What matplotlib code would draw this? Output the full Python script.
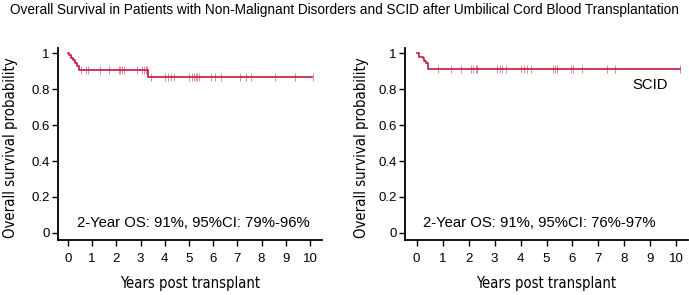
import matplotlib
matplotlib.use('Agg')
import matplotlib.pyplot as plt
from matplotlib import font_manager
import numpy as np

plt.rcParams['font.family'] = ['Liberation Sans', 'DejaVu Sans']

RED = '#c8163c'

# left panel: non-malignant disorders
left_step_x = [0, 0.05, 0.12, 0.2, 0.28, 0.38, 0.45, 3.32, 10.1]
left_step_y = [1.0, 0.987, 0.975, 0.96, 0.945, 0.93, 0.905, 0.867, 0.867]
left_cens_x = [0.52, 0.73, 0.83, 1.31, 1.70, 2.11, 2.17, 2.22, 2.30, 2.86, 3.05,
               3.13, 3.21, 3.28, 3.45, 4.03, 4.14, 4.28, 4.37, 5.0, 5.12, 5.2,
               5.28, 5.35, 5.41, 5.93, 6.08, 6.34, 7.13, 7.34, 7.56, 8.55, 9.39, 10.11]

# right panel: SCID
right_step_x = [0, 0.1, 0.23, 0.3, 0.36, 0.43, 10.13]
right_step_y = [1.0, 0.98, 0.97, 0.955, 0.945, 0.913, 0.913]
right_cens_x = [0.83, 1.32, 1.71, 2.10, 2.15, 2.28, 2.33, 3.10, 3.21, 3.28, 3.44,
                4.03, 4.13, 4.23, 4.42, 5.26, 5.32, 5.41, 5.95, 6.03, 6.36, 7.33,
                7.62, 10.13]

yticks = [0, 0.2, 0.4, 0.6, 0.8, 1]
ytick_labels = ['0', '0.2', '0.4', '0.6', '0.8', '1']
xticks = list(range(0, 11))

title = 'Overall Survival in Patients with Non-Malignant Disorders and SCID after Umbilical Cord Blood Transplantation'
notes = ['2-Year OS: 91%, 95%CI: 79%-96%', '2-Year OS: 91%, 95%CI: 76%-97%']

# axis titles use a narrow face if one is installed
narrow = None
for f in font_manager.fontManager.ttflist:
    if f.style != 'normal' or f.weight not in (400, 'normal', 'regular'):
        continue
    if 'Narrow' in f.name or f.stretch in ('condensed', 'semi-condensed'):
        narrow = font_manager.FontProperties(fname=f.fname)
        break
if narrow is None:
    lab_kw = dict(family='Liberation Sans')
    xlab_size, ylab_size = 9.3, 9.3
else:
    lab_kw = dict(fontproperties=narrow)
    xlab_size, ylab_size = 10.6, 10.7

fig = plt.figure(figsize=(6.89, 2.95), dpi=100)
fig.text(0.5, 0.966, title, ha='center', va='center', fontsize=9.8)

ax1 = fig.add_axes([58 / 689, 1 - 240 / 295, (322 - 58) / 689, 192 / 295])
ax2 = fig.add_axes([405 / 689, 1 - 240 / 295, (688 - 405) / 689, 192 / 295])


def level_at(xs, ys, t):
    idx = np.searchsorted(xs, t, side='right') - 1
    return ys[idx]


panels = [
    (ax1, left_step_x, left_step_y, left_cens_x, notes[0], 0.37, (-0.41, 10.5)),
    (ax2, right_step_x, right_step_y, right_cens_x, notes[1], 0.24, (-0.45, 10.45)),
]
for ax, sx, sy, cx, note, note_x, xlim in panels:
    ax.step(sx, sy, where='post', color=RED, lw=1.2)
    cy = [level_at(sx, sy, t) for t in cx]
    ax.plot(cx, cy, ls='none', marker='|', ms=6, mew=0.7, color=RED, alpha=0.5)
    ax.set_xlim(*xlim)
    ax.set_ylim(-0.039, 1.028)
    ax.set_xticks(xticks)
    ax.set_yticks(yticks)
    ax.set_yticklabels(ytick_labels)
    for s in ['top', 'right']:
        ax.spines[s].set_visible(False)
    for s in ['left', 'bottom']:
        ax.spines[s].set_linewidth(1.3)
    ax.tick_params(axis='both', labelsize=9.5, width=1.0, length=4, colors='black')
    ax.tick_params(axis='x', pad=5)
    ax.tick_params(axis='y', pad=2)
    ax.set_xlabel('Years post transplant', **lab_kw)
    ax.set_ylabel('Overall survival probability', **lab_kw)
    ax.xaxis.label.set_fontsize(xlab_size)
    ax.yaxis.label.set_fontsize(ylab_size)
    ax.text(note_x, 0.055, note, fontsize=10.7, va='center', ha='left')

ax1.xaxis.set_label_coords(0.5, -0.19)
ax2.xaxis.set_label_coords(0.5, -0.19)
ax1.yaxis.set_label_coords(-0.152, 0.48)
ax2.yaxis.set_label_coords(-0.127, 0.48)

ax2.text(8.32, 0.82, 'SCID', fontsize=10.7, va='center', ha='left')

fig.savefig('out.png', dpi=100)
plt.close()
